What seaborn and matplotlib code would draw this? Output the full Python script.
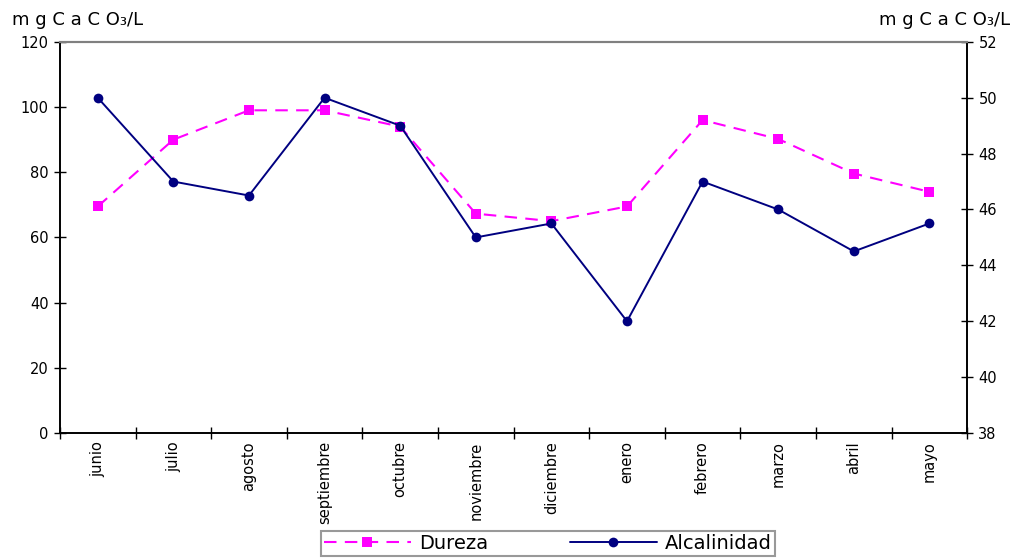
import matplotlib
matplotlib.use("Agg")
import matplotlib.pyplot as plt
import seaborn as sns
import pandas as pd

meses = ["junio", "julio", "agosto", "septiembre", "octubre", "noviembre",
         "diciembre", "enero", "febrero", "marzo", "abril", "mayo"]
dureza = [69.5, 90, 99, 99, 94, 67.3, 65, 69.5, 96, 90.2, 79.6, 74]
alcalinidad = [50, 47, 46.5, 50, 49, 45, 45.5, 42, 47, 46, 44.5, 45.5]

left_ticks = [0, 20, 40, 60, 80, 100, 120]
right_ticks = [38, 40, 42, 44, 46, 48, 50, 52]
unidad = "m g C a C O₃/L"

sns.set_theme(style="white")
plt.rcParams["font.family"] = ["DejaVu Sans"]
plt.rcParams["text.color"] = "black"
plt.rcParams["xtick.color"] = "black"
plt.rcParams["ytick.color"] = "black"
plt.rcParams["axes.labelcolor"] = "black"

df = pd.DataFrame({"mes": meses, "pos": range(len(meses)),
                   "Dureza": dureza, "Alcalinidad": alcalinidad})

fig = plt.figure(figsize=(10.16, 5.58), dpi=100)
ax = fig.add_axes([0.059, 0.224, 0.893, 0.701])
ax2 = ax.twinx()

sns.lineplot(data=df, x="pos", y="Dureza", ax=ax, color="#FF00FF",
             linestyle=(0, (6, 4)), linewidth=1.5, marker="s", markersize=7,
             markeredgewidth=0, label="Dureza", legend=False)
sns.lineplot(data=df, x="pos", y="Alcalinidad", ax=ax2, color="#000080",
             linewidth=1.4, marker="o", markersize=7, markeredgewidth=0,
             label="Alcalinidad", legend=False)

n = len(meses)
for a in (ax, ax2):
    a.set_xlim(-0.5, n - 0.5)
    a.set_xlabel("")
    a.set_ylabel("")
    a.grid(False)

ax.set_ylim(0, 120)
ax.set_yticks(left_ticks)
ax2.set_ylim(38, 52)
ax2.set_yticks(right_ticks)

# category boundaries as ticks, month names centered between them
ax.set_xticks([i - 0.5 for i in range(n + 1)])
ax.set_xticklabels([])
ax.set_xticks(list(range(n)), minor=True)
ax.set_xticklabels(meses, minor=True, rotation=90, fontsize=10.5)
ax.tick_params(axis="x", which="major", direction="inout", length=8,
               width=1, color="black", bottom=True)
ax.tick_params(axis="x", which="minor", length=0, pad=6, bottom=True)
ax.tick_params(axis="y", direction="inout", length=8, width=1,
               color="black", labelsize=10.5, left=True, pad=4)
ax2.tick_params(axis="y", direction="inout", length=8, width=1,
                color="black", labelsize=10.5, right=True, pad=4)

for a in (ax, ax2):
    for side in ("left", "right", "bottom"):
        a.spines[side].set_color("black")
        a.spines[side].set_linewidth(1.2)
    a.spines["top"].set_color("#808080")
    a.spines["top"].set_linewidth(1.5)

fig.text(0.012, 0.965, unidad, fontsize=13, ha="left", va="center")
fig.text(0.994, 0.965, unidad, fontsize=13, ha="right", va="center")

h1, l1 = ax.get_legend_handles_labels()
h2, l2 = ax2.get_legend_handles_labels()
leg = fig.legend(h1 + h2, l1 + l2, loc="center", ncol=2,
                 bbox_to_anchor=(0.539, 0.026), fontsize=14, frameon=True,
                 fancybox=False, handlelength=4.5, columnspacing=4.2,
                 borderpad=0.15, handletextpad=0.4, borderaxespad=0)
leg.get_frame().set_edgecolor("#808080")
leg.get_frame().set_linewidth(1.5)

fig.savefig("out.png", dpi=100)
